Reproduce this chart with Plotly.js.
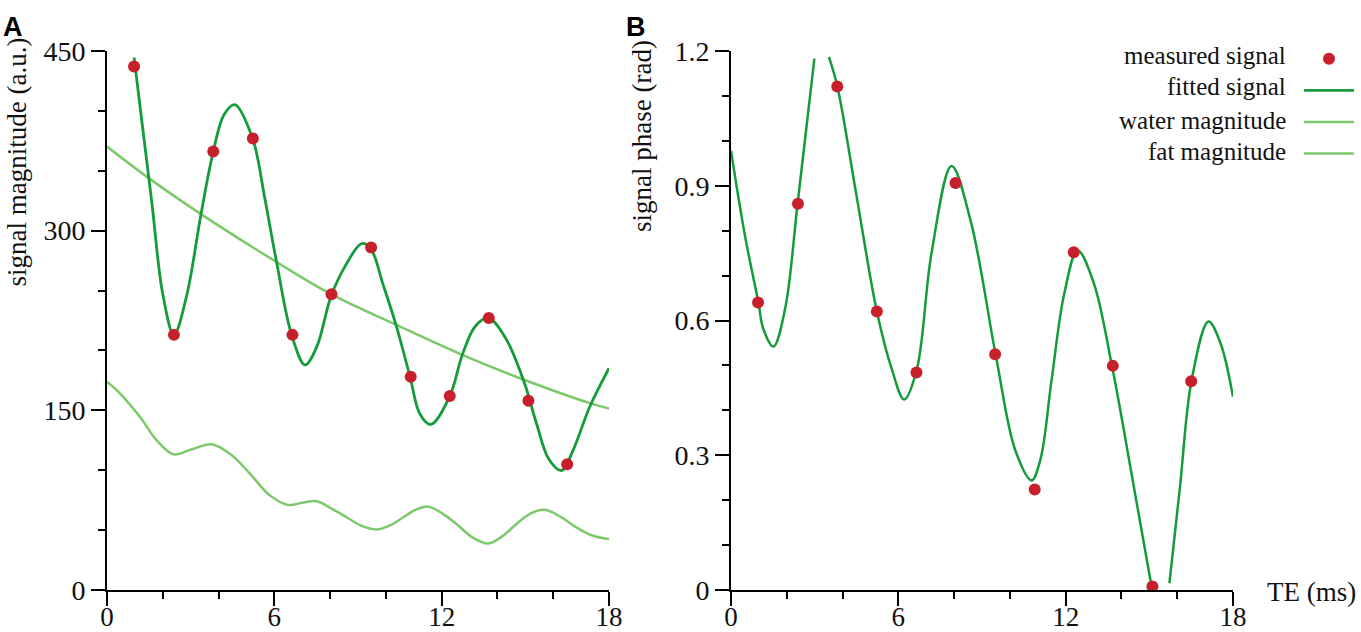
<!DOCTYPE html>
<html>
<head>
<meta charset="utf-8">
<script src="https://cdn.plot.ly/plotly-3.0.1.min.js"></script>
<style>html,body{margin:0;padding:0;background:#fff;}#chart{width:1361px;height:632px;}</style>
</head>
<body>
<div id="chart"></div>
<script>
// ---------- data ----------
// echo times of the measured samples (ms)
const te = [0.97, 2.40, 3.81, 5.23, 6.65, 8.05, 9.47, 10.89, 12.29, 13.69, 15.11, 16.50];
// panel A: measured signal magnitude (a.u.)
const magMeasured = [437, 213, 366, 377, 213, 247, 286, 178, 162, 227, 158, 105];
// panel B: measured signal phase (rad)
const phaseMeasured = [0.640, 0.860, 1.121, 0.620, 0.484, 0.906, 0.525, 0.224, 0.752, 0.499, 0.008, 0.465];

// panel A: fitted magnitude curve
const fitMagTE = [0.97, 1.60, 2.00, 2.40, 2.85, 3.37, 3.80, 4.20, 4.58, 5.22, 5.65, 6.08, 6.62, 7.10, 7.52, 8.03, 8.53, 9.13, 9.45, 9.90, 10.36, 10.87, 11.22, 11.61, 12.29, 12.74, 13.20, 13.67, 14.30, 14.98, 15.40, 15.85, 16.30, 16.71, 17.31, 18.0];
const fitMag   = [444.6, 325, 247, 213, 245, 313.8, 365, 397, 405.2, 377, 328, 273.8, 213, 187.9, 203, 245, 270, 289.2, 285.3, 255, 221.5, 177.6, 147, 138.2, 161.7, 196.3, 220, 227.1, 210, 172, 139, 109, 99.8, 116.6, 153, 185.2];

// panel A: water magnitude
const waterTE  = [0, 1.46, 3.37, 6.08, 8.03, 10.36, 12.74, 14.98, 17.31, 18.0];
const waterMag = [370.2, 344.5, 313.8, 273.8, 247, 221.5, 196.3, 175.3, 156, 151.6];

// panel A: fat magnitude
const fatTE  = [0, 0.41, 1.18, 1.78, 2.38, 3.05, 3.75, 4.45, 5.13, 5.84, 6.50, 7.00, 7.52, 8.05, 8.59, 9.13, 9.67, 10.15, 10.62, 11.07, 11.52, 12.02, 12.53, 13.10, 13.67, 14.18, 14.68, 15.20, 15.70, 16.27, 16.83, 17.40, 18.0];
const fatMag = [173.9, 165.5, 144.6, 125, 113.3, 117.5, 121.6, 113, 97, 79, 71, 72.8, 74.1, 68, 60.7, 53.5, 50.6, 54, 60.7, 67, 69.6, 64, 55.1, 44, 38.8, 45, 55.1, 64, 66.9, 61, 52.3, 45.5, 42.5];

// panel B: fitted phase curve (null = the curve leaves the plotted range)
const fitPhaseTE = [0, 0.50, 0.98, 1.16, 1.52, 1.94, 2.39, 2.99, 3.25, 3.51, 3.81, 4.50, 5.23, 5.76, 6.21, 6.66, 7.19, 7.91, 8.60, 9.49, 10.20, 10.78, 11.10, 11.49, 11.95, 12.43, 13.00, 13.66, 14.37, 15.08, 15.40, 15.72, 16.10, 16.51, 17.12, 17.55, 18.0];
const fitPhase   = [0.978, 0.789, 0.641, 0.581, 0.542, 0.626, 0.861, 1.183, null, 1.187, 1.122, 0.878, 0.620, 0.493, 0.424, 0.490, 0.750, 0.944, 0.820, 0.524, 0.310, 0.244, 0.292, 0.465, 0.660, 0.756, 0.685, 0.499, 0.256, 0.008, null, 0.015, 0.230, 0.465, 0.598, 0.550, 0.430];

// legend labels
const legendLabels = ['measured signal', 'fitted signal', 'water magnitude', 'fat magnitude'];

// ---------- styling ----------
const RED = '#c8202a';
const DARK = '#169b3c';
const LIGHT = '#7cc96b';
const SERIF = 'Liberation Serif, Times New Roman, serif';

const traces = [
  {x: waterTE, y: waterMag, xaxis: 'x', yaxis: 'y', mode: 'lines', name: '',
   line: {color: LIGHT, width: 2.5, shape: 'spline'}, legendrank: 3, hoverinfo: 'skip'},
  {x: fatTE, y: fatMag, xaxis: 'x', yaxis: 'y', mode: 'lines', name: '',
   line: {color: LIGHT, width: 2.5, shape: 'spline'}, legendrank: 4, hoverinfo: 'skip'},
  {x: fitMagTE, y: fitMag, xaxis: 'x', yaxis: 'y', mode: 'lines', name: '',
   line: {color: DARK, width: 2.8, shape: 'spline'}, legendrank: 2, hoverinfo: 'skip'},
  {x: te, y: magMeasured, xaxis: 'x', yaxis: 'y', mode: 'markers', name: '',
   marker: {color: RED, size: 12}, legendrank: 1},
  {x: fitPhaseTE, y: fitPhase, xaxis: 'x2', yaxis: 'y2', mode: 'lines', name: '',
   line: {color: DARK, width: 2.5, shape: 'spline'}, connectgaps: false, showlegend: false, hoverinfo: 'skip'},
  {x: te, y: phaseMeasured, xaxis: 'x2', yaxis: 'y2', mode: 'markers', name: '',
   marker: {color: RED, size: 12}, showlegend: false}
];

function axisBase(extra) {
  return Object.assign({
    showgrid: false, zeroline: false, showline: true, linecolor: '#000', linewidth: 2,
    ticks: 'outside', ticklen: 14, tickwidth: 2, tickcolor: '#000',
    tickfont: {family: SERIF, size: 28, color: '#111'},
    fixedrange: true
  }, extra);
}

const PL = 107, PR = 1233, PT = 51, PB = 590;
const W = PR - PL, H = PB - PT;
const px = v => (v - PL) / W;
const py = v => (PB - v) / H;

const legendY = [55, 86.7, 120, 151.7];
const annotations = [
  {text: '<b>A</b>', xref: 'paper', yref: 'paper', x: px(1), y: py(10), xanchor: 'left', yanchor: 'top',
   showarrow: false, font: {family: 'Liberation Sans, Arial, sans-serif', size: 27, color: '#000'}},
  {text: '<b>B</b>', xref: 'paper', yref: 'paper', x: px(624), y: py(10), xanchor: 'left', yanchor: 'top',
   showarrow: false, font: {family: 'Liberation Sans, Arial, sans-serif', size: 27, color: '#000'}},
  {text: 'signal magnitude (a.u.)', xref: 'paper', yref: 'paper', x: px(16), y: py(36), xanchor: 'center', yanchor: 'top',
   textangle: -90, showarrow: false, font: {family: SERIF, size: 27, color: '#111'}},
  {text: 'signal phase (rad)', xref: 'paper', yref: 'paper', x: px(642), y: py(38), xanchor: 'center', yanchor: 'top',
   textangle: -90, showarrow: false, font: {family: SERIF, size: 27, color: '#111'}},
  {text: 'TE (ms)', xref: 'paper', yref: 'paper', x: px(1265), y: py(592), xanchor: 'left', yanchor: 'middle',
   showarrow: false, font: {family: SERIF, size: 27, color: '#111'}}
];
legendLabels.forEach((t, i) => annotations.push({
  text: t, xref: 'paper', yref: 'paper', x: px(1288), y: py(legendY[i]), xanchor: 'right', yanchor: 'middle',
  showarrow: false, font: {family: SERIF, size: 25, color: '#111'}
}));

const minorX = {dtick: 2, ticks: 'outside', ticklen: 7, tickwidth: 2, tickcolor: '#000', showgrid: false};
const xTickFont = {family: SERIF, size: 27, color: '#111'};
const layout = {
  width: 1361, height: 632,
  margin: {l: PL, r: 1361 - PR, t: PT, b: 632 - PB, pad: 0, autoexpand: false},
  paper_bgcolor: '#fff', plot_bgcolor: '#fff',
  showlegend: true,
  legend: {x: px(1299), xanchor: 'left', y: py(38), yanchor: 'top', bgcolor: 'rgba(0,0,0,0)', borderwidth: 0,
           font: {family: SERIF, size: 22}, itemwidth: 50, itemclick: false, itemdoubleclick: false},
  xaxis: axisBase({domain: [0, (609 - PL) / W], range: [0, 18], tick0: 0, dtick: 6, anchor: 'y',
    ticklabelstandoff: -12, tickfont: xTickFont, minor: minorX}),
  yaxis: axisBase({domain: [0, 1], range: [0, 450], tick0: 0, dtick: 150, anchor: 'x',
    minor: {dtick: 50, ticks: 'outside', ticklen: 7, tickwidth: 2, tickcolor: '#000', showgrid: false}}),
  xaxis2: axisBase({domain: [(731 - PL) / W, 1], range: [0, 18], tick0: 0, dtick: 6, anchor: 'y2',
    ticklabelstandoff: -12, tickfont: xTickFont, minor: minorX}),
  yaxis2: axisBase({domain: [0, 1], range: [0, 1.2], tick0: 0, dtick: 0.3, anchor: 'x2',
    minor: {dtick: 0.1, ticks: 'outside', ticklen: 7, tickwidth: 2, tickcolor: '#000', showgrid: false}}),
  annotations: annotations
};

Plotly.newPlot('chart', traces, layout, {displayModeBar: false, staticPlot: true});
</script>
</body>
</html>
